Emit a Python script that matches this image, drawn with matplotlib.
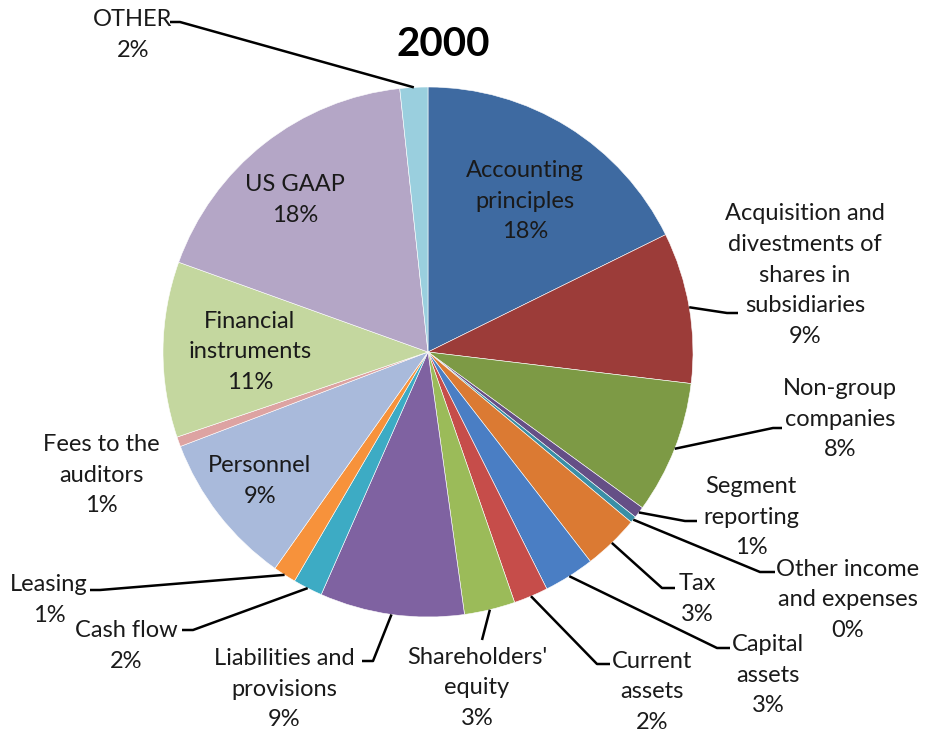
import matplotlib.pyplot as plt
import numpy as np

# Share of notes per topic, 2000 (percent, clockwise from 12 o'clock)
temas = ["Accounting\nprinciples",
         "Acquisition and\ndivestments of\nshares in\nsubsidiaries",
         "Non-group\ncompanies",
         "Segment\nreporting",
         "Other income\nand expenses",
         "Tax",
         "Capital\nassets",
         "Current\nassets",
         "Shareholders'\nequity",
         "Liabilities and\nprovisions",
         "Cash flow",
         "Leasing",
         "Personnel",
         "Fees to the\nauditors",
         "Financial\ninstruments",
         "US GAAP",
         "OTHER"]
valores = [17.7, 9.2, 8.1, 0.7, 0.4, 3.4, 3.1, 2.1, 3.1, 8.8,
           1.8, 1.4, 9.4, 0.6, 10.7, 17.8, 1.7]
colores = ["#3E6AA1", "#9C3C39", "#7D9A45", "#654F86", "#3A8FA6", "#DB7A33",
           "#4A7EC4", "#C64D4A", "#9BBB59", "#7F62A1", "#3DABC4", "#F7923B",
           "#A9BADB", "#DDA3A2", "#C4D79F", "#B4A6C6", "#9ACFDE"]

# Label placement in pixel units (x, y from top)
pos_texto = [(525, 201), (805, 275), (840, 419), (751, 517), (848, 600),
             (697, 599), (768, 675), (652, 692), (477, 688), (284, 689),
             (126, 646), (49, 600), (260, 481), (101, 475), (250, 352),
             (295, 200), (133, 35)]
# leader line: elbow point and end point next to the text (None = no line)
guias = [None, ((727, 313), (738, 313)), ((773, 428), (782, 428)),
         ((685, 521), (697, 521)), ((760, 572), (775, 572)),
         ((662, 588), (675, 588)), ((717, 648), (730, 648)),
         ((597, 664), (610, 664)), ((482, 640), (482, 640)),
         ((373, 661), (362, 661)), ((193, 630), (182, 630)),
         ((100, 590), (90, 590)), None, None, None, None,
         ((180, 22), (170, 22))]

plt.rcParams['font.family'] = ['Lato', 'DejaVu Sans']

fig = plt.figure(figsize=(9.25, 7.36), dpi=100)
ax = fig.add_axes([0, 0, 1, 1])

centro = (428, 352)
radio = 265

# with the inverted y axis, startangle=-90 is 12 o'clock and
# counterclock=True runs clockwise on screen
cunas, _ = ax.pie(valores, colors=colores, center=centro, radius=radio,
                  startangle=-90, counterclock=True,
                  wedgeprops=dict(edgecolor='white', linewidth=0.4),
                  frame=True)
ax.set_xlim(0, 925)
ax.set_ylim(736, 0)   # y grows downwards, like pixels
ax.set_aspect('equal')
ax.axis('off')

for i, w in enumerate(cunas):
    etiqueta = f"{temas[i]}\n{round(valores[i])}%"
    tx, ty = pos_texto[i]
    ax.text(tx, ty, etiqueta, ha='center', va='center', fontsize=17,
            linespacing=1.57, color='#1a1a1a')
    if guias[i] is not None:
        ang = np.deg2rad((w.theta1 + w.theta2) / 2)
        x0 = centro[0] + radio * np.cos(ang)
        y0 = centro[1] + radio * np.sin(ang)
        (xc, yc), (xf, yf) = guias[i]
        ax.plot([x0, xc, xf], [y0, yc, yf], color='black', lw=1.8,
                solid_capstyle='butt')

ax.text(443, 44, "2000", ha='center', va='center', fontsize=29,
        fontweight='bold', color='black')

plt.savefig("out.png", dpi=100)
